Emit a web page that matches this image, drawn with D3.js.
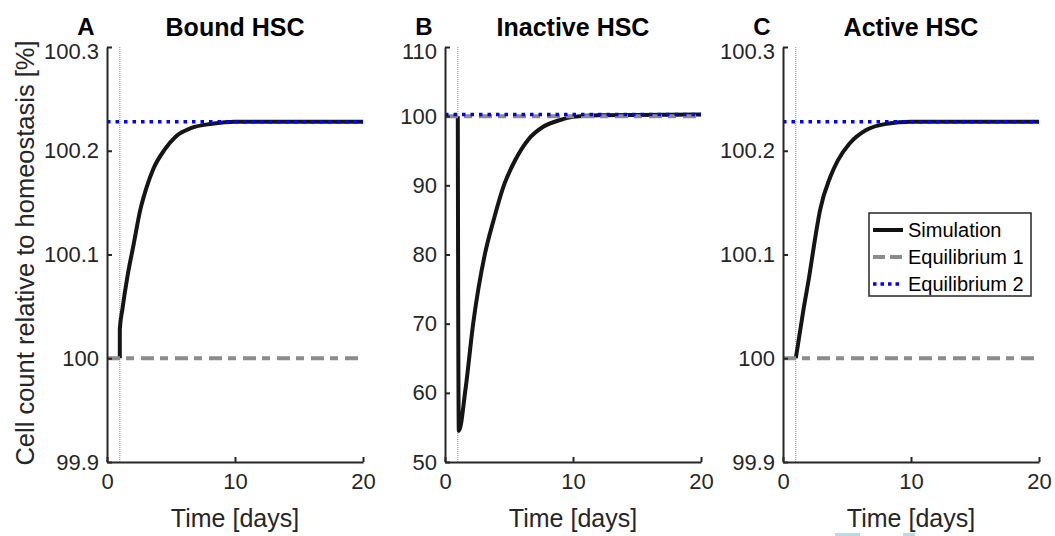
<!DOCTYPE html>
<html>
<head>
<meta charset="utf-8">
<script src="https://cdn.jsdelivr.net/npm/d3@7"></script>
<style>
  body { margin: 0; background: #fff; }
  svg { display: block; font-family: "Liberation Sans", Arial, sans-serif; }
</style>
</head>
<body>
<svg id="chart" width="1055" height="536"></svg>
<script>
// panel texts
const panelLetters = ["A", "B", "C"]
const panelTitles = ["Bound HSC", "Inactive HSC", "Active HSC"]
const xLabel = "Time [days]"
const yLabel = "Cell count relative to homeostasis [%]"
const legendLabels = ["Simulation", "Equilibrium 1", "Equilibrium 2"]

// axes ticks
const timeTicks = [0, 10, 20]
const smallTicks = [99.9, 100, 100.1, 100.2, 100.3]
const smallTickLabels = ["99.9", "100", "100.1", "100.2", "100.3"]
const inactiveTicks = [50, 60, 70, 80, 90, 100, 110]
const inactiveTickLabels = ["50", "60", "70", "80", "90", "100", "110"]

// equilibria and perturbation time
const equilibrium1 = [100, 100, 100]
const equilibrium2 = [100.228, 100.228, 100.228]
const perturbTime = 1

// simulations
const boundTime = [1, 1.001, 1.2, 1.6, 2.1, 2.6, 3.1, 3.6, 4.5, 5.4, 6.6, 8.2, 10, 20]
const boundSim = [100, 100.028, 100.047, 100.079, 100.111, 100.143, 100.165, 100.182, 100.201, 100.214, 100.222, 100.226, 100.228, 100.228]
const inactiveTime = [1, 1.001, 1.08, 1.6, 2.2, 3.1, 3.8, 4.6, 5.5, 6.5, 7.7, 9, 10, 12, 20]
const inactiveSim = [100, 99, 54.5, 60.5, 70, 79.9, 85, 90, 93.7, 96.6, 98.5, 99.45, 99.9, 100.15, 100.23]
const activeTime = [1, 1.6, 2.05, 2.45, 2.9, 3.7, 4.3, 5.2, 6.5, 8.1, 10, 20]
const activeSim = [100, 100.047, 100.079, 100.111, 100.143, 100.175, 100.191, 100.207, 100.22, 100.226, 100.228, 100.228]

const panels = [
	{time: boundTime, sim: boundSim, domain: [99.9, 100.3], ticks: smallTicks, labels: smallTickLabels},
	{time: inactiveTime, sim: inactiveSim, domain: [50, 110], ticks: inactiveTicks, labels: inactiveTickLabels},
	{time: activeTime, sim: activeSim, domain: [99.9, 100.3], ticks: smallTicks, labels: smallTickLabels}
]

const axisColor = '#262626'
const lefts = [107, 445, 783]
const plotW = 256
const plotTop = 47, plotBottom = 462

const svg = d3.select('#chart')
svg.append('rect').attr('width', 1055).attr('height', 536).attr('fill', '#fff')

panels.forEach((p, i) => {
	const x = d3.scaleLinear().domain([0, 20]).range([lefts[i], lefts[i] + plotW])
	const y = d3.scaleLinear().domain(p.domain).range([plotBottom, plotTop])
	const g = svg.append('g')

	// perturbation marker
	g.append('line')
		.attr('x1', x(perturbTime)).attr('x2', x(perturbTime))
		.attr('y1', plotTop).attr('y2', plotBottom)
		.attr('stroke', '#8a8a8a').attr('stroke-width', 1)
		.attr('stroke-dasharray', '1,1')

	// simulation
	const pts = p.time.map((t, k) => [t, p.sim[k]])
	g.append('path')
		.datum(pts)
		.attr('fill', 'none')
		.attr('stroke', '#151515')
		.attr('stroke-width', 4)
		.attr('stroke-linejoin', 'round')
		.attr('d', d3.line().x(d => x(d[0])).y(d => y(d[1])).curve(d3.curveMonotoneX))

	// equilibrium 1
	g.append('line')
		.attr('x1', x(0)).attr('x2', x(20))
		.attr('y1', y(equilibrium1[i])).attr('y2', y(equilibrium1[i]))
		.attr('stroke', '#8c8c8c').attr('stroke-width', 4)
		.attr('stroke-dasharray', '13,6,8,7')

	// equilibrium 2
	g.append('line')
		.attr('x1', x(0)).attr('x2', x(20))
		.attr('y1', y(equilibrium2[i])).attr('y2', y(equilibrium2[i]))
		.attr('stroke', '#0000ff').attr('stroke-width', 3.5)
		.attr('stroke-dasharray', '3.5,5')

	// axes (box off, ticks inside)
	const xAxis = g.append('g')
		.attr('transform', 'translate(0,' + plotBottom + ')')
		.call(d3.axisBottom(x).tickValues(timeTicks).tickSizeInner(-5).tickSizeOuter(0).tickPadding(11))
	const yAxis = g.append('g')
		.attr('transform', 'translate(' + lefts[i] + ',0)')
		.call(d3.axisLeft(y).tickValues(p.ticks).tickFormat((d, k) => p.labels[k]).tickSizeInner(-5).tickSizeOuter(0).tickPadding(8))
	;[xAxis, yAxis].forEach(a => {
		a.select('.domain').attr('stroke', axisColor).attr('stroke-width', 2)
		a.selectAll('.tick line').attr('stroke', axisColor).attr('stroke-width', 2)
		a.selectAll('.tick text').attr('fill', axisColor).style('font-size', '22px')
	})
	// top label sits a bit below its tick, as in the original
	yAxis.selectAll('.tick text').filter((d, k) => k === p.ticks.length - 1).attr('dy', '0.5em')

	// titles
	svg.append('text')
		.attr('x', x(10)).attr('y', 36)
		.attr('text-anchor', 'middle')
		.style('font-size', '25px').style('font-weight', 'bold')
		.text(panelTitles[i])
	svg.append('text')
		.attr('x', lefts[i] - 21).attr('y', 35)
		.attr('text-anchor', 'middle')
		.style('font-size', '24px').style('font-weight', 'bold')
		.text(panelLetters[i])

	svg.append('text')
		.attr('x', x(10)).attr('y', 527)
		.attr('text-anchor', 'middle')
		.attr('fill', axisColor)
		.style('font-size', '25px')
		.text(xLabel)

	// legend in the last panel
	if (i === 2) {
		const lg = svg.append('g').attr('transform', 'translate(869,213)')
		lg.append('rect').attr('width', 162).attr('height', 83)
			.attr('fill', '#fff').attr('stroke', axisColor).attr('stroke-width', 1.5)
		const styles = [
			{c: '#111', w: 4, dash: null},
			{c: '#8c8c8c', w: 4, dash: '12,5'},
			{c: '#0000ff', w: 3.5, dash: '3.5,4'}
		]
		legendLabels.forEach((lab, k) => {
			const ly = 17 + k * 27
			lg.append('line').attr('x1', 4).attr('x2', 34).attr('y1', ly).attr('y2', ly)
				.attr('stroke', styles[k].c).attr('stroke-width', styles[k].w)
				.attr('stroke-dasharray', styles[k].dash)
			lg.append('text').attr('x', 39).attr('y', ly).attr('dy', '0.35em')
				.attr('fill', '#000').style('font-size', '20px').text(lab)
		})
	}
})

// shared y label
svg.append('text')
	.attr('transform', 'translate(25,253) rotate(-90)')
	.attr('text-anchor', 'middle')
	.attr('dy', '0.35em')
	.attr('fill', axisColor)
	.style('font-size', '25.5px')
	.text(yLabel)

// faint marks along the bottom edge of the original image
svg.append('rect').attr('x', 835).attr('y', 533).attr('width', 25).attr('height', 3).attr('fill', '#b3dde9')
svg.append('rect').attr('x', 903).attr('y', 533).attr('width', 12).attr('height', 3).attr('fill', '#b3dde9')
</script>
</body>
</html>
